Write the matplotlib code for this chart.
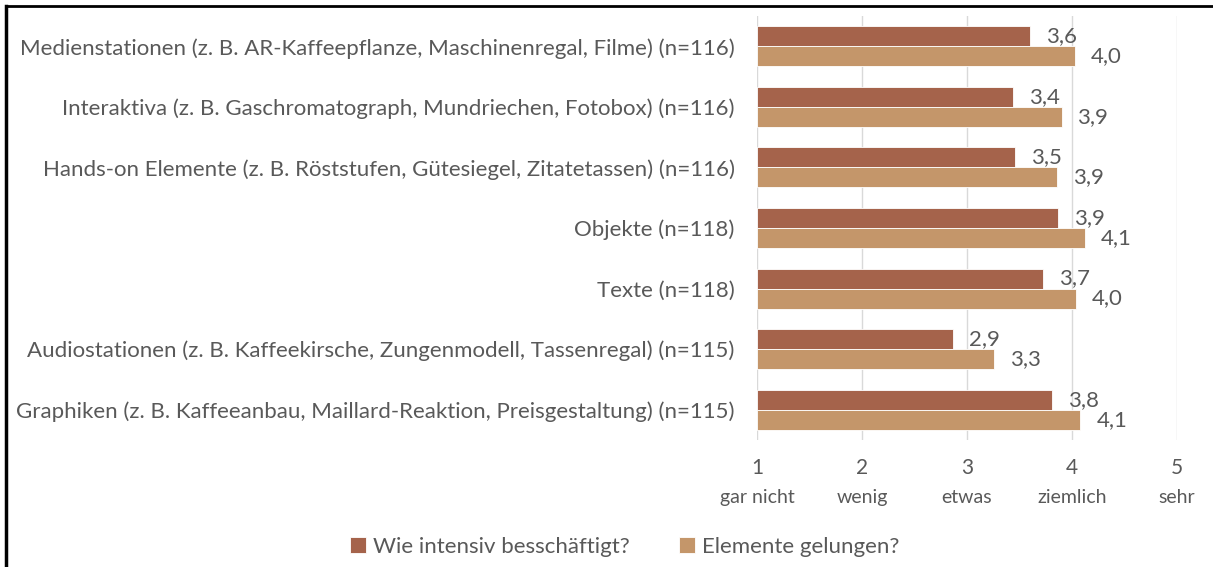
import matplotlib
matplotlib.use("Agg")
import matplotlib.pyplot as plt
from matplotlib.lines import Line2D
import numpy as np

plt.rcParams["font.family"] = ["Lato", "DejaVu Sans"]

categories = [
    "Medienstationen (z. B. AR-Kaffeepflanze, Maschinenregal, Filme) (n=116)",
    "Interaktiva (z. B. Gaschromatograph, Mundriechen, Fotobox) (n=116)",
    "Hands-on Elemente (z. B. Röststufen, Gütesiegel, Zitatetassen) (n=116)",
    "Objekte (n=118)",
    "Texte (n=118)",
    "Audiostationen (z. B. Kaffeekirsche, Zungenmodell, Tassenregal) (n=115)",
    "Graphiken (z. B. Kaffeeanbau, Maillard-Reaktion, Preisgestaltung) (n=115)",
]
intensiv = [3.60, 3.44, 3.46, 3.87, 3.72, 2.87, 3.81]
gelungen = [4.03, 3.90, 3.86, 4.12, 4.04, 3.26, 4.08]
series_names = ["Wie intensiv besschäftigt?", "Elemente gelungen?"]
tick_values = [1, 2, 3, 4, 5]
tick_words = ["gar nicht", "wenig", "etwas", "ziemlich", "sehr"]

dark = "#A5634B"
light = "#C4966A"
grey = "#595959"

fig = plt.figure(figsize=(12.13, 5.67), dpi=100)
ax = fig.add_axes([757 / 1213, 1 - 440 / 567, 420 / 1213, 424 / 567])

y = np.arange(len(categories))
h = 0.33
base = 1
b1 = ax.barh(y - h / 2, np.array(intensiv) - base, left=base, height=h,
             color=dark, edgecolor="white", linewidth=0.6, label=series_names[0])
b2 = ax.barh(y + h / 2, np.array(gelungen) - base, left=base, height=h,
             color=light, edgecolor="white", linewidth=0.6, label=series_names[1])

for bars, vals in ((b1, intensiv), (b2, gelungen)):
    for rect, v in zip(bars, vals):
        ax.annotate(f"{v:.1f}".replace(".", ","),
                    xy=(v, rect.get_y() + rect.get_height() / 2),
                    xytext=(11.5, 0), textcoords="offset points",
                    ha="left", va="center", fontsize=16, color=grey)

ax.set_xlim(1, 5)
ax.set_ylim(len(categories) - 0.5, -0.5)
ax.set_xticks(tick_values)
ax.set_xticklabels([str(t) for t in tick_values], fontsize=15, color=grey)
ax.set_yticks(y)
ax.set_yticklabels(categories, fontsize=16, color=grey)
ax.tick_params(axis="both", length=0)
ax.tick_params(axis="y", pad=16)
ax.tick_params(axis="x", pad=13)
ax.grid(axis="x", color="#D9D9D9", linewidth=1)
ax.set_axisbelow(True)
for s in ax.spines.values():
    s.set_visible(False)

for t, w in zip(tick_values, tick_words):
    ax.text(t, -0.135, w, transform=ax.get_xaxis_transform(),
            ha="center", va="center", fontsize=14, color=grey)

leg = fig.legend(loc="center", bbox_to_anchor=(625 / 1213, 1 - 547 / 567),
                 ncol=2, frameon=False, fontsize=16, handlelength=0.7,
                 handleheight=0.7, handletextpad=0.35, columnspacing=2.2)
for t in leg.get_texts():
    t.set_color(grey)

# frame lines (top and left) as in the screenshot
fig.add_artist(Line2D([6 / 1213, 1], [1 - 6 / 567, 1 - 6 / 567],
                      transform=fig.transFigure, color="black", linewidth=2))
fig.add_artist(Line2D([6 / 1213, 6 / 1213], [0, 1 - 6 / 567],
                      transform=fig.transFigure, color="black", linewidth=2.5))

fig.savefig("out.png", dpi=100, facecolor="white")
